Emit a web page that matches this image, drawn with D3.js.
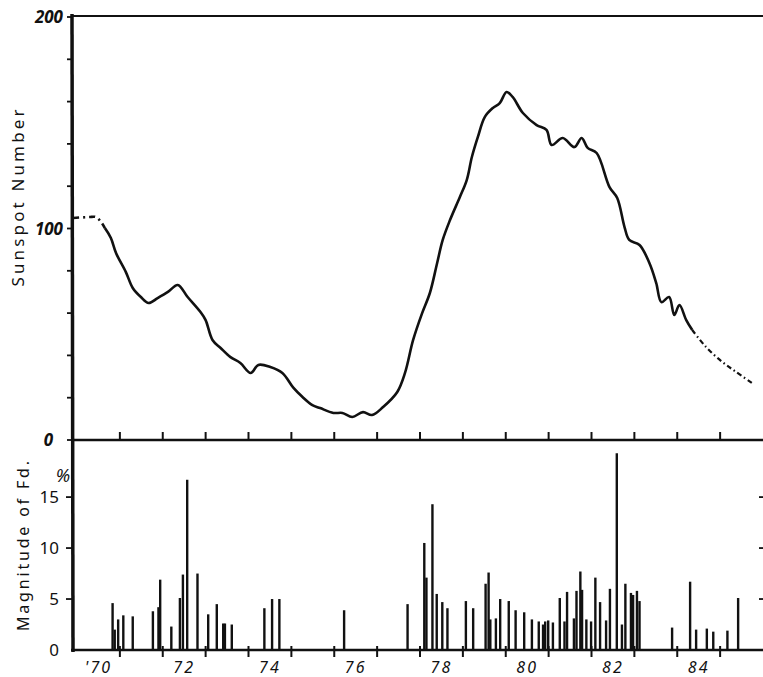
<!DOCTYPE html>
<html>
<head>
<meta charset="utf-8">
<script src="https://cdn.jsdelivr.net/npm/d3@7"></script>
<style>
  body { margin: 0; background: #fff; }
  text { font-family: "Noto Sans", sans-serif; fill: #111; }
</style>
</head>
<body>
<svg id="my_svg"></svg>
<script>
const width = 763;
const height = 677;

// sunspot number, smoothed (dashed ends are extrapolated parts)
const sunspotStartYears = [1969.91, 1970.28, 1970.44, 1970.56, 1970.65];
const sunspotStartValues = [105.0, 105.4, 105.4, 103.1, 100.2];

const sunspotYears = [1970.65, 1970.79, 1970.91, 1971.14, 1971.30, 1971.49, 1971.67, 1971.88, 1972.12, 1972.35,
    1972.58, 1972.88, 1973.00, 1973.16, 1973.35, 1973.58, 1973.81, 1974.05, 1974.23, 1974.51,
    1974.79, 1975.05, 1975.26, 1975.49, 1975.67, 1975.98, 1976.19, 1976.42, 1976.67, 1976.88,
    1977.14, 1977.47, 1977.65, 1977.84, 1978.05, 1978.23, 1978.40, 1978.53, 1978.70, 1978.93,
    1979.09, 1979.21, 1979.35, 1979.51, 1979.70, 1979.86, 1980.02, 1980.16, 1980.40, 1980.72,
    1980.95, 1981.07, 1981.33, 1981.60, 1981.77, 1981.91, 1982.12, 1982.42, 1982.60, 1982.77,
    1982.88, 1983.12, 1983.35, 1983.51, 1983.63, 1983.81, 1983.93, 1984.05, 1984.21, 1984.35];
const sunspotValues = [100.2, 95.5, 88.4, 79.4, 71.9, 67.6, 64.8, 67.1, 70.0, 73.3,
    67.6, 60.5, 56.7, 47.3, 43.5, 39.2, 36.4, 31.7, 35.5, 34.5,
    31.7, 24.6, 20.3, 16.5, 15.1, 12.8, 12.8, 10.9, 13.2, 11.8,
    15.6, 22.7, 31.7, 47.3, 60.0, 69.5, 83.7, 94.6, 104.0, 114.9,
    122.9, 133.8, 143.3, 152.7, 157.0, 159.3, 164.5, 162.2, 154.6, 148.9,
    146.6, 139.5, 142.8, 138.5, 142.8, 138.1, 135.7, 119.6, 114.4, 100.7,
    94.6, 92.2, 83.7, 74.2, 65.2, 67.6, 59.1, 63.8, 56.7, 52.0];

const sunspotEndYears = [1984.35, 1984.67, 1985.05, 1985.37, 1985.74];
const sunspotEndValues = [52.0, 44.0, 36.9, 32.2, 27.0];

// Forbush decrease events: time and magnitude (%)
const fdYears = [1970.83, 1970.88, 1970.96, 1971.08, 1971.30, 1971.77, 1971.90, 1971.94, 1972.20, 1972.40,
    1972.47, 1972.57, 1972.81, 1973.06, 1973.26, 1973.41, 1973.45, 1973.61, 1974.37, 1974.55,
    1974.72, 1976.23, 1977.71, 1978.10, 1978.15, 1978.29, 1978.39, 1978.52, 1978.64, 1979.07,
    1979.24, 1979.53, 1979.60, 1979.64, 1979.77, 1979.87, 1980.07, 1980.23, 1980.43, 1980.61,
    1980.77, 1980.87, 1980.92, 1980.99, 1981.10, 1981.26, 1981.37, 1981.43, 1981.59, 1981.65,
    1981.74, 1981.78, 1981.88, 1981.99, 1982.09, 1982.20, 1982.34, 1982.43, 1982.59, 1982.71,
    1982.79, 1982.92, 1982.97, 1983.06, 1983.12, 1983.88, 1984.30, 1984.44, 1984.69, 1984.84,
    1985.17, 1985.42];
const fdValues = [4.6, 2.0, 3.0, 3.4, 3.3, 3.8, 4.2, 6.9, 2.3, 5.1,
    7.4, 16.7, 7.5, 3.5, 4.5, 2.6, 2.6, 2.5, 4.1, 5.0,
    5.0, 3.9, 4.5, 10.5, 7.1, 14.3, 5.5, 4.7, 4.1, 4.8,
    4.1, 6.5, 7.6, 3.0, 3.1, 5.0, 4.8, 3.9, 3.7, 3.0,
    2.8, 2.5, 2.8, 2.9, 2.7, 5.1, 2.8, 5.7, 3.1, 5.8,
    7.7, 5.9, 3.0, 2.8, 7.1, 4.7, 2.9, 6.0, 19.3, 2.5,
    6.5, 5.6, 5.4, 5.8, 4.8, 2.2, 6.7, 2.0, 2.1, 1.8,
    1.9, 5.1];

const yearLabels = ["'70", "72", "74", "76", "78", "80", "82", "84"];
const labelYears = [1970, 1972, 1974, 1976, 1978, 1980, 1982, 1984];
const yearTicks = d3.range(1971, 1986);
const sunspotTicks = d3.range(0, 201, 20);
const sunspotLabels = [0, 100, 200];
const fdTicks = [5, 10, 15];
const fdLabels = [0, 5, 10, 15];

const svg = d3.select('#my_svg')
    .attr('width', width)
    .attr('height', height);

const x = d3.scaleLinear().domain([1969.86, 1986]).range([71, 763]);
const yTop = d3.scaleLinear().domain([0, 200]).range([440, 17]);
const yBot = d3.scaleLinear().domain([0, 20.6]).range([650, 440]);

const frame = svg.append('g').attr('stroke', '#111').attr('fill', 'none');

// frame lines
frame.append('line').attr('x1', 71).attr('x2', width).attr('y1', 16).attr('y2', 16).attr('stroke-width', 2);
frame.append('line').attr('x1', 71).attr('x2', width).attr('y1', 440).attr('y2', 440).attr('stroke-width', 2.5);
frame.append('line').attr('x1', 71).attr('x2', width).attr('y1', 650).attr('y2', 650).attr('stroke-width', 2.5);
frame.append('line').attr('x1', 72).attr('x2', 73).attr('y1', 14).attr('y2', 652).attr('stroke-width', 3.5);

// year ticks
frame.selectAll('.tick-mid').data(yearTicks).enter().append('line')
    .attr('x1', d => x(d)).attr('x2', d => x(d))
    .attr('y1', 440).attr('y2', 432).attr('stroke-width', 2);
frame.selectAll('.tick-bot').data(yearTicks).enter().append('line')
    .attr('x1', d => x(d)).attr('x2', d => x(d))
    .attr('y1', 646).attr('y2', 657).attr('stroke-width', 2);

// left ticks
frame.selectAll('.tick-ss').data(sunspotTicks).enter().append('line')
    .attr('x1', 67).attr('x2', 72)
    .attr('y1', d => yTop(d)).attr('y2', d => yTop(d)).attr('stroke-width', 1.8);
frame.selectAll('.tick-fd').data(fdTicks).enter().append('line')
    .attr('x1', 66).attr('x2', 72)
    .attr('y1', d => yBot(d)).attr('y2', d => yBot(d)).attr('stroke-width', 1.8);
frame.selectAll('.tick-fd-r').data(fdTicks).enter().append('line')
    .attr('x1', 759).attr('x2', 763)
    .attr('y1', d => yBot(d)).attr('y2', d => yBot(d)).attr('stroke-width', 1.8);

// tick labels
svg.selectAll('.lab-ss').data(sunspotLabels).enter().append('text')
    .attr('x', d => d === 0 ? 53 : 63)
    .attr('y', d => yTop(d) + 6)
    .attr('text-anchor', 'end')
    .attr('font-size', 17)
    .attr('font-style', 'italic')
    .attr('font-weight', 'bold')
    .text(d => d);

svg.selectAll('.lab-fd').data(fdLabels).enter().append('text')
    .attr('x', 59)
    .attr('y', d => yBot(d) + 6)
    .attr('text-anchor', 'end')
    .attr('font-size', 17)
    .text(d => d);

svg.append('text')
    .attr('x', 63).attr('y', 482)
    .attr('text-anchor', 'middle')
    .attr('font-size', 18)
    .attr('font-style', 'italic')
    .text('%');

svg.selectAll('.lab-year').data(labelYears).enter().append('text')
    .attr('x', d => x(d + 0.5))
    .attr('y', 673)
    .attr('text-anchor', 'middle')
    .attr('font-size', 16)
    .attr('font-style', 'italic')
    .attr('letter-spacing', 2)
    .text((d, i) => yearLabels[i]);

// axis titles
svg.append('text')
    .attr('transform', 'translate(24, 198) rotate(-90)')
    .attr('text-anchor', 'middle')
    .attr('font-size', 17)
    .attr('textLength', 177)
    .text('Sunspot Number');

svg.append('text')
    .attr('transform', 'translate(29, 546) rotate(-90)')
    .attr('text-anchor', 'middle')
    .attr('font-size', 16)
    .attr('textLength', 170)
    .text('Magnitude of Fd.');

// sunspot curve
const line = d3.line()
    .x(d => x(d[0]))
    .y(d => yTop(d[1]))
    .curve(d3.curveCatmullRom);

svg.append('path')
    .datum(d3.zip(sunspotStartYears, sunspotStartValues))
    .attr('d', line)
    .attr('fill', 'none')
    .attr('stroke', '#111')
    .attr('stroke-width', 2.6)
    .attr('stroke-dasharray', '6,4,2,4');

svg.append('path')
    .datum(d3.zip(sunspotYears, sunspotValues))
    .attr('d', line)
    .attr('fill', 'none')
    .attr('stroke', '#111')
    .attr('stroke-width', 2.6)
    .attr('stroke-linejoin', 'round');

svg.append('path')
    .datum(d3.zip(sunspotEndYears, sunspotEndValues))
    .attr('d', line)
    .attr('fill', 'none')
    .attr('stroke', '#111')
    .attr('stroke-width', 2.2)
    .attr('stroke-dasharray', '5,3,1.5,3');

// Fd bars
svg.append('g')
    .selectAll('line')
    .data(d3.zip(fdYears, fdValues))
    .enter().append('line')
    .attr('x1', d => x(d[0])).attr('x2', d => x(d[0]))
    .attr('y1', yBot(0)).attr('y2', d => yBot(d[1]))
    .attr('stroke', '#111')
    .attr('stroke-width', 2.4);
</script>
</body>
</html>
